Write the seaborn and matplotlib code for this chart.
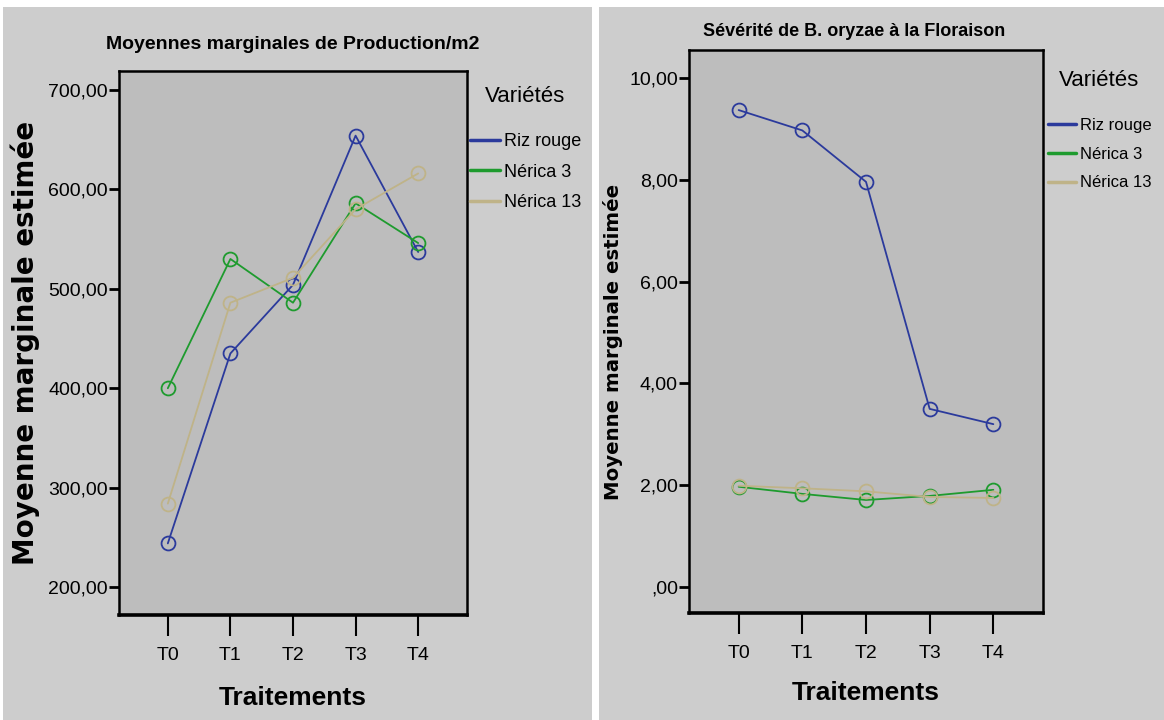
import pandas as pd
import seaborn as sns
import matplotlib.pyplot as plt
from matplotlib.patches import Rectangle
from matplotlib.lines import Line2D
from matplotlib.ticker import FuncFormatter

# données
traitements = ['T0', 'T1', 'T2', 'T3', 'T4']
varietes = ['Riz rouge', 'Nérica 3', 'Nérica 13']

prod_riz_rouge = [244, 435, 504, 654, 537]
prod_nerica3 = [400, 530, 486, 586, 546]
prod_nerica13 = [284, 486, 511, 580, 616]

sev_riz_rouge = [9.37, 8.97, 7.96, 3.50, 3.20]
sev_nerica3 = [1.97, 1.83, 1.71, 1.79, 1.91]
sev_nerica13 = [1.99, 1.94, 1.88, 1.77, 1.75]

couleurs = ['#2b3a9c', '#1e9b2e', '#bfb388']

sns.set_theme(style='white')
plt.rcParams['font.family'] = ['Liberation Sans', 'DejaVu Sans']
plt.rcParams['text.color'] = 'black'
plt.rcParams['axes.labelcolor'] = 'black'
plt.rcParams['xtick.color'] = 'black'
plt.rcParams['ytick.color'] = 'black'


def tableau(valeurs):
    lignes = []
    for v, vals in zip(varietes, valeurs):
        for t, y in zip(traitements, vals):
            lignes.append({'Traitements': t, 'Variétés': v, 'Valeur': y})
    return pd.DataFrame(lignes)


def virgule(v, pos):
    s = f'{v:.2f}'.replace('.', ',')
    if s.startswith('0,'):
        s = s[1:]
    return s


W, H = 1164, 720
fig = plt.figure(figsize=(W / 100, H / 100), dpi=100)
fig.patch.set_facecolor('white')
fig.add_artist(Rectangle((3 / W, 0), 589 / W, 713 / H, transform=fig.transFigure,
                         facecolor='#cdcdcd', edgecolor='none', zorder=-10))
fig.add_artist(Rectangle((599 / W, 0), 565 / W, 713 / H, transform=fig.transFigure,
                         facecolor='#cdcdcd', edgecolor='none', zorder=-10))


def panneau(rect, valeurs, ylim, yticks, titre, titre_size, titre_pad, titre_x,
            ylab_size, ylab_pos, xlab_y, leg_titre_pos, leg_pos, leg_size,
            leg_space, leg_len):
    ax = fig.add_axes(rect)
    ax.set_facecolor('#bdbdbd')
    df = tableau(valeurs)
    sns.lineplot(data=df, x='Traitements', y='Valeur', hue='Variétés',
                 palette=couleurs, marker='o', markersize=10,
                 markerfacecolor='none', markeredgewidth=1.3, linewidth=1.3,
                 sort=False, legend=False, ax=ax)
    for line in ax.lines:
        line.set_markeredgecolor(line.get_color())

    ax.set_xlim(-0.78, 4.78)
    ax.set_ylim(*ylim)
    ax.set_yticks(yticks)
    ax.yaxis.set_major_formatter(FuncFormatter(virgule))
    for s in ax.spines.values():
        s.set_color('black')
        s.set_linewidth(1.8)
    ax.spines['bottom'].set_linewidth(2.6)
    ax.tick_params(axis='y', left=True, length=7, width=2, color='black',
                   labelsize=14, pad=1)
    ax.tick_params(axis='x', bottom=True, length=15, width=1.5, color='black',
                   labelsize=14, pad=8)

    ax.set_title(titre, fontsize=titre_size, fontweight='bold', pad=titre_pad,
                 x=titre_x)
    ax.set_xlabel('Traitements', fontsize=19, fontweight='bold')
    ax.xaxis.set_label_coords(0.5, xlab_y)
    ax.set_ylabel('Moyenne marginale estimée', fontsize=ylab_size,
                  fontweight='bold', family='DejaVu Sans')
    ax.yaxis.set_label_coords(*ylab_pos)

    # légende : titre à part, puis les entrées
    fig.text(leg_titre_pos[0] / W, 1 - leg_titre_pos[1] / H, 'Variétés',
             fontsize=16, ha='center', va='center')
    poignees = [Line2D([0], [0], color=c, lw=2.5) for c in couleurs]
    fig.legend(poignees, varietes, loc='upper left',
               bbox_to_anchor=(leg_pos[0] / W, 1 - leg_pos[1] / H),
               frameon=False, fontsize=leg_size,
               handlelength=leg_len, handletextpad=0.25,
               labelspacing=leg_space, borderpad=0, borderaxespad=0)
    return ax


panneau([119 / W, 1 - 615 / H, 348 / W, 544 / H],
        [prod_riz_rouge, prod_nerica3, prod_nerica13],
        (172, 719), [200, 300, 400, 500, 600, 700],
        'Moyennes marginales de Production/m2', 14, 16, 0.5,
        20, (-0.228, 0.5), -0.13, (525, 96), (470, 133), 13, 0.76, 1.65)

panneau([689 / W, 1 - 613 / H, 354 / W, 563 / H],
        [sev_riz_rouge, sev_nerica3, sev_nerica13],
        (-0.51, 10.55), [0, 2, 4, 6, 8, 10],
        'Sévérité de B. oryzae à la Floraison', 13, 10, 0.467,
        14.2, (-0.186, 0.481), -0.12, (1099, 81), (1048, 118), 12, 0.82, 1.65)

fig.savefig('out.png', dpi=100, facecolor=fig.get_facecolor())
